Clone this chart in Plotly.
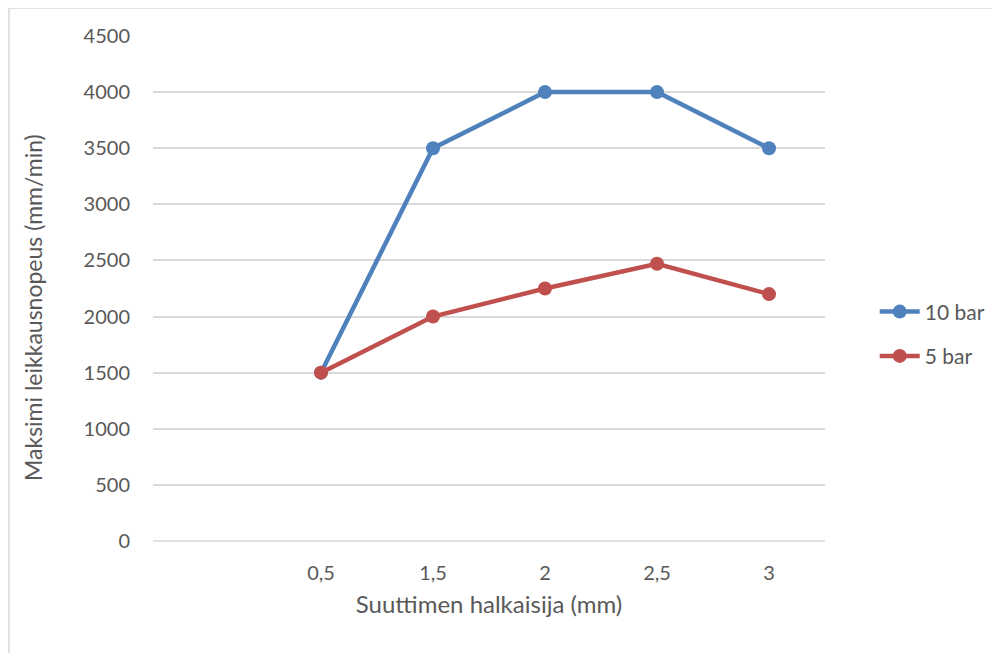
import plotly.graph_objects as go

categories = ["", "0,5", "1,5", "2", "2,5", "3"]
bar10 = [None, 1500, 3500, 4000, 4000, 3500]
bar5 = [None, 1500, 2000, 2250, 2470, 2200]
y_ticks = [0, 500, 1000, 1500, 2000, 2500, 3000, 3500, 4000, 4500]

xpos = list(range(len(categories)))
font = "Lato, 'Open Sans', sans-serif"
txt = "#595959"

fig = go.Figure()
fig.add_trace(go.Scatter(x=xpos, y=bar10, name="10 bar", mode="lines+markers",
                         legendgroup="a",
                         line=dict(color="#4F81BD", width=4.5),
                         marker=dict(size=14, color="#4F81BD")))
fig.add_trace(go.Scatter(x=xpos, y=bar5, name="5 bar", mode="lines+markers",
                         legendgroup="b",
                         line=dict(color="#C0504D", width=4.5),
                         marker=dict(size=14, color="#C0504D")))

# page has 8px body margin -> compensate
L, T, W, H = 145, 28, 672, 505
fig.update_layout(
    width=1000, height=653,
    margin=dict(l=L, r=1000 - L - W, t=T, b=653 - T - H),
    paper_bgcolor="white", plot_bgcolor="white",
    font=dict(family=font, color=txt, size=20),
    showlegend=True,
    legend=dict(x=1.074, y=0.41, xanchor="left", yanchor="middle",
                font=dict(size=21, color=txt), itemwidth=40,
                tracegroupgap=14, traceorder="grouped",
                bgcolor="rgba(0,0,0,0)"),
    xaxis=dict(range=[-0.5, len(categories) - 0.5], tickvals=xpos, ticktext=categories,
               showgrid=False, zeroline=False, showline=False, ticks="",
               tickfont=dict(size=20, color=txt), ticklabelstandoff=18,
               title=dict(text="Suuttimen halkaisija (mm)", font=dict(size=24, color=txt), standoff=13)),
    yaxis=dict(range=[0, 4500], tickvals=y_ticks, showgrid=True, gridcolor="#D9D9D9",
               gridwidth=1.5, zeroline=False, showline=False, ticks="",
               tickfont=dict(size=20, color=txt), ticklabelstandoff=22),
)
fig.add_annotation(text="Maksimi leikkausnopeus (mm/min)", textangle=-90,
                   xref="paper", yref="paper", x=(25 - L) / W, y=(541 - 308) / H,
                   xanchor="center", yanchor="middle", showarrow=False,
                   font=dict(size=23, color=txt))
fig.add_shape(type="line", xref="paper", yref="paper", x0=0, x1=1, y0=0, y1=0,
              line=dict(color="#D9D9D9", width=1.5), layer="below")
fig.add_shape(type="rect", xref="paper", yref="paper",
              x0=(1 - L) / W, x1=1.4, y0=-0.5, y1=(541 - 8) / H,
              line=dict(color="#D9D9D9", width=1.5), layer="below")
fig.write_html("out.html")
